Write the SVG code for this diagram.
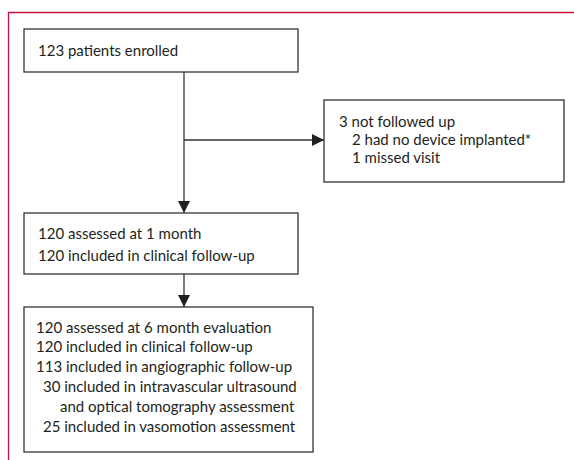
<svg xmlns="http://www.w3.org/2000/svg" width="574" height="460" viewBox="0 0 574 460">
<defs>
<style>
.frame{fill:none;stroke:#c4123f;stroke-width:1.3}
.box{fill:#fff;stroke:#333;stroke-width:1.3}
.ln{fill:none;stroke:#333;stroke-width:1.3}
text{font-family:Lato,"Open Sans","Liberation Sans",Arial,sans-serif;font-size:15px;fill:#231f20}
</style>
<marker id="ah" viewBox="0 0 12 12" refX="12" refY="6" markerWidth="12" markerHeight="12" markerUnits="userSpaceOnUse" orient="auto">
<path d="M0,0 L12,6 L0,12 Z" fill="#231f20"/>
</marker>
</defs>
<rect width="574" height="460" fill="#fff"/>
<path class="frame" d="M8.5,460 L8.5,12.5 L574,12.5"/>
<g id="connectors">
<path class="ln" d="M184,72 L184,213" marker-end="url(#ah)"/>
<path class="ln" d="M184,140 L324,140" marker-end="url(#ah)"/>
<path class="ln" d="M184,274 L184,307" marker-end="url(#ah)"/>
</g>
<g id="enrolled">
<rect class="box" x="24" y="29" width="274" height="43"/>
<text x="38" y="56">123 patients enrolled</text>
</g>
<g id="notfollowed">
<rect class="box" x="324" y="100" width="240" height="82"/>
<text x="339" y="127">3 not followed up</text>
<text x="352" y="145">2 had no device implanted*</text>
<text x="352" y="163">1 missed visit</text>
</g>
<g id="onemonth">
<rect class="box" x="24" y="213" width="274" height="61"/>
<text x="38" y="239">120 assessed at 1 month</text>
<text x="38" y="261">120 included in clinical follow-up</text>
</g>
<g id="sixmonth">
<rect class="box" x="24" y="307" width="289" height="145"/>
<text x="36" y="333">120 assessed at 6 month evaluation</text>
<text x="36" y="352">120 included in clinical follow-up</text>
<text x="36" y="372">113 included in angiographic follow-up</text>
<text x="43" y="392">30 included in intravascular ultrasound</text>
<text x="60" y="412">and optical tomography assessment</text>
<text x="43" y="432">25 included in vasomotion assessment</text>
</g>
</svg>
